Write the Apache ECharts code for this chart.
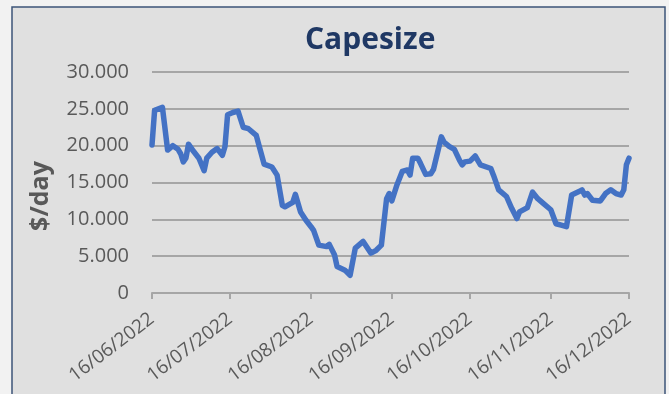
<!DOCTYPE html>
<html>
<head>
<meta charset="utf-8">
<script src="https://cdn.jsdelivr.net/npm/echarts@6/dist/echarts.min.js"></script>
<style>
  html, body { margin: 0; padding: 0; background: #f2f2f2; }
  #chart { width: 669px; height: 394px; }
</style>
</head>
<body>
<div id="chart"></div>
<script>
// Capesize time-charter rates, $/day
const dates = [
  '2022-06-16','2022-06-17','2022-06-20','2022-06-22','2022-06-24','2022-06-26','2022-06-27','2022-06-28','2022-06-29','2022-06-30',
  '2022-07-02','2022-07-04','2022-07-06','2022-07-07','2022-07-09','2022-07-11','2022-07-13','2022-07-14','2022-07-15','2022-07-17',
  '2022-07-19','2022-07-21','2022-07-23','2022-07-26','2022-07-27','2022-07-29','2022-08-01','2022-08-03','2022-08-05','2022-08-06',
  '2022-08-09','2022-08-10','2022-08-12','2022-08-14','2022-08-16','2022-08-17','2022-08-19','2022-08-22','2022-08-23','2022-08-25',
  '2022-08-26','2022-08-29','2022-08-31','2022-09-02','2022-09-05','2022-09-08','2022-09-10','2022-09-12','2022-09-14','2022-09-15',
  '2022-09-16','2022-09-18','2022-09-20','2022-09-22','2022-09-23','2022-09-24','2022-09-26','2022-09-27','2022-09-29','2022-10-01',
  '2022-10-02','2022-10-05','2022-10-06','2022-10-08','2022-10-10','2022-10-12','2022-10-13','2022-10-14','2022-10-16','2022-10-18',
  '2022-10-20','2022-10-24','2022-10-25','2022-10-27','2022-10-30','2022-11-01','2022-11-03','2022-11-04','2022-11-07','2022-11-09',
  '2022-11-11','2022-11-13','2022-11-16','2022-11-18','2022-11-20','2022-11-22','2022-11-24','2022-11-27','2022-11-28','2022-11-29',
  '2022-11-30','2022-12-02','2022-12-05','2022-12-07','2022-12-09','2022-12-11','2022-12-13','2022-12-14','2022-12-15','2022-12-16'
];
const rates = [
  20100, 24800, 25200, 19400, 20000, 19500, 18900, 17800, 18300, 20200,
  19200, 18300, 16600, 18300, 19100, 19600, 18700, 19900, 24200, 24500,
  24700, 22500, 22300, 21400, 20100, 17500, 17100, 16000, 11900, 11700,
  12300, 13400, 11000, 9900, 9000, 8500, 6500, 6300, 6600, 5200,
  3600, 3100, 2400, 6100, 7000, 5400, 5800, 6500, 12800, 13500,
  12500, 14700, 16500, 16700, 16000, 18300, 18300, 17600, 16100, 16200,
  16800, 21200, 20500, 19900, 19500, 18000, 17400, 17800, 17900, 18600,
  17400, 16900, 16000, 14000, 13100, 11500, 10100, 11000, 11600, 13700,
  12800, 12200, 11300, 9400, 9200, 9000, 13300, 13800, 14000, 13300,
  13500, 12600, 12500, 13500, 14000, 13500, 13300, 14000, 17400, 18300
];
const tickDates = ['2022-06-16','2022-07-16','2022-08-16','2022-09-16','2022-10-16','2022-11-16','2022-12-16'];

const DAY = 86400000;
function ts(s) {
  const p = s.split('-').map(Number);
  return Date.UTC(p[0], p[1] - 1, p[2]);
}
const origin = ts(tickDates[0]);
// days elapsed since the first tick date
function dayOf(s) { return Math.round((ts(s) - origin) / DAY); }
function pad(n) { return (n < 10 ? '0' : '') + n; }
function fmtDay(v) {
  const d = new Date(origin + Math.round(v) * DAY);
  return pad(d.getUTCDate()) + '/' + pad(d.getUTCMonth() + 1) + '/' + d.getUTCFullYear();
}
function fmtThousands(v) {
  return String(v).replace(/\B(?=(\d{3})+(?!\d))/g, '.');
}

const tickDays = tickDates.map(dayOf);
const seriesData = dates.map((d, i) => [dayOf(d), rates[i]]);
const FONT = '"Open Sans", "Noto Sans", sans-serif';
const GREY = '#595959';

const chart = echarts.init(document.getElementById('chart'), null, { renderer: 'canvas' });
chart.setOption({
  animation: false,
  backgroundColor: '#f2f2f2',
  graphic: [
    {
      type: 'rect', z: -10, silent: true,
      shape: { x: 12, y: 7, width: 653, height: 400 },
      style: { fill: '#e0e0e0', stroke: '#3d5478', lineWidth: 1.5 }
    },
    {
      type: 'text', silent: true,
      x: 41, y: 196, rotation: Math.PI / 2,
      style: {
        text: '$/day', fill: GREY, font: 'bold 25px ' + FONT,
        textAlign: 'center', textVerticalAlign: 'middle'
      }
    }
  ],
  title: {
    text: 'Capesize',
    left: 300, top: 20,
    textStyle: { color: '#1f3864', fontSize: 30, fontWeight: 'bold', fontFamily: FONT }
  },
  grid: { left: 152, right: 40, top: 72, bottom: 101, containLabel: false },
  xAxis: {
    type: 'value',
    min: tickDays[0], max: tickDays[tickDays.length - 1],
    axisLine: { show: true, lineStyle: { color: '#a6a6a6', width: 2 } },
    axisTick: { show: true, length: 6, lineStyle: { color: '#a6a6a6', width: 2 }, customValues: tickDays },
    axisLabel: {
      customValues: tickDays,
      formatter: v => fmtDay(v),
      rotate: 37, color: GREY, fontSize: 19, fontFamily: FONT, margin: 24
    },
    splitLine: { show: false }
  },
  yAxis: {
    type: 'value',
    min: 0, max: 30000, interval: 5000,
    axisLine: { show: false },
    axisTick: { show: false },
    axisLabel: {
      color: GREY, fontSize: 20, fontFamily: FONT, margin: 23,
      formatter: v => fmtThousands(v)
    },
    splitLine: { show: true, lineStyle: { color: '#a6a6a6', width: 2 } }
  },
  series: [{
    type: 'line',
    data: seriesData,
    showSymbol: false,
    smooth: false,
    lineStyle: { color: '#4472c4', width: 5.5, cap: 'round', join: 'round' },
    itemStyle: { color: '#4472c4' }
  }]
});
</script>
</body>
</html>
